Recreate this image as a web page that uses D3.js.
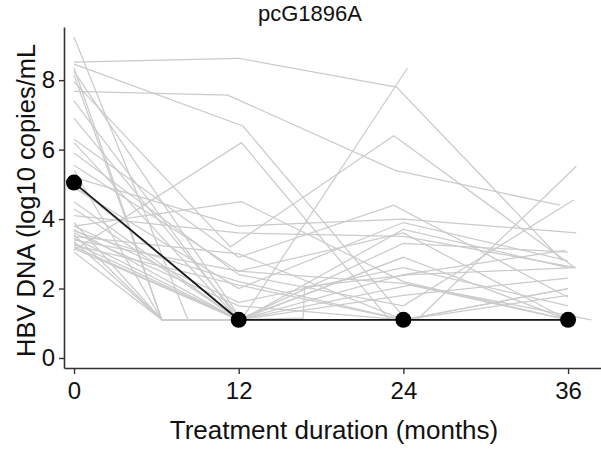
<!DOCTYPE html>
<html><head><meta charset="utf-8">
<script src="https://cdn.jsdelivr.net/npm/d3@7"></script>
<style>body{margin:0;background:#fff}svg{display:block}</style>
</head><body><svg id="c" width="601" height="450"></svg>
<script>
const chartTitle = "pcG1896A";
const xLabel = "Treatment duration (months)";
const yLabel = "HBV DNA (log10 copies/mL";
const xTicks = [0, 12, 24, 36];
const yTicks = [0, 2, 4, 6, 8];
const medianMonths = [0, 12, 24, 36];
const medianValues = [5.05, 1.1, 1.1, 1.1];

const patientMonths = [
  [0, 12, 23.5, 35.6],
  [0, 12.2, 24.3],
  [0, 12.3, 24.2, 36],
  [0, 11.2, 23.4, 35.4],
  [0, 8.3, 12, 24],
  [0, 6.4, 12, 24, 36],
  [0, 12.2, 24, 36],
  [0, 6.4, 12, 24.5, 36],
  [0, 11.4, 23.3, 36.5],
  [0, 12.2, 23, 36],
  [0, 12, 24, 36],
  [0, 12.2, 24, 36],
  [0, 12, 23.3, 36],
  [0, 12, 25, 36.6],
  [0, 12, 24, 36.4],
  [0, 12, 24, 37.7],
  [0, 6.4, 12, 24, 36],
  [0, 12, 24, 36.6],
  [0, 12, 24, 36],
  [0, 12, 24, 36],
  [0, 12, 16.7, 16.8, 24.5, 36.5],
  [0, 12, 24, 36],
  [0, 12, 24, 36.6],
  [0, 6.4, 12, 24, 36],
  [0, 12, 24, 36],
  [0, 12, 24, 36],
  [0, 12, 24, 36],
  [0, 6.4, 12, 24],
  [0, 12, 24, 36],
  [0, 12, 24, 35.8],
  [0, 12, 24, 36],
  [0, 6.4, 12, 24],
  [0, 12, 24, 36],
  [0, 12, 24, 36],
  [0, 12, 24],
  [0, 12, 24, 36],
  [0, 6.4, 12, 24, 36],
  [0, 12, 24, 36]
];
const patientValues = [
  [8.52, 8.63, 7.8, 2.8],
  [6.9, 1.1, 8.35],
  [8.46, 6.68, 1.1, 1.1],
  [7.68, 7.57, 5.4, 4.4],
  [9.24, 1.1, 1.1, 1.1],
  [8.35, 1.1, 1.1, 1.1, 1.1],
  [8.25, 1.1, 3.7, 2.6],
  [8.15, 1.1, 1.1, 2.1, 1.1],
  [7.95, 3.2, 6.4, 2.6],
  [3.1, 6.2, 1.1, 1.1],
  [7.4, 1.1, 1.1, 1.1],
  [3.8, 4.5, 2.2, 1.1],
  [6.3, 2.9, 4.4, 1.75],
  [6.2, 1.1, 1.1, 5.52],
  [5.9, 2.4, 1.5, 4.55],
  [5.55, 2.5, 2.15, 1.1],
  [5.4, 1.1, 1.1, 1.1, 1.1],
  [5.2, 3.8, 4.0, 3.6],
  [5.0, 1.1, 1.1, 1.1],
  [4.9, 2.0, 3.9, 2.8],
  [4.5, 1.1, 1.15, 2.05, 2.4, 2.6],
  [4.3, 1.1, 3.3, 3.05],
  [4.1, 3.6, 3.5, 2.6],
  [3.9, 1.1, 1.1, 1.1, 1.1],
  [3.8, 1.6, 2.6, 1.5],
  [3.7, 1.1, 2.9, 1.1],
  [3.65, 2.2, 1.1, 2.0],
  [3.55, 1.1, 1.1, 1.1],
  [3.5, 3.0, 1.1, 1.8],
  [3.45, 1.1, 2.4, 3.1],
  [3.4, 2.5, 3.6, 1.1],
  [3.35, 1.1, 1.1, 1.1],
  [3.3, 1.1, 1.8, 2.3],
  [3.25, 2.1, 1.1, 1.1],
  [3.2, 1.1, 2.9],
  [3.15, 1.1, 1.1, 2.0],
  [3.05, 1.1, 1.1, 1.1, 1.1],
  [3.6, 1.5, 1.1, 1.1]
];

const svg = d3.select("#c");
const font = "'Liberation Sans', Arial, Helvetica, sans-serif";
const x = d3.scaleLinear().domain([-0.729, 38.4]).range([64, 601]);
const y = d3.scaleLinear().domain([-0.288, 9.53]).range([368, 27]);

// patient lines
const line = d3.line().x(d => x(d[0])).y(d => y(d[1]));
svg.append("g").selectAll("path")
  .data(patientMonths.map((ms, i) => ms.map((m, j) => [m, patientValues[i][j]])))
  .join("path")
  .attr("d", line)
  .attr("fill", "none")
  .attr("stroke", "#cbcbcb")
  .attr("stroke-width", 1.25);

// median
const med = medianMonths.map((m, i) => [m, medianValues[i]]);
svg.append("path").attr("d", line(med)).attr("fill", "none")
  .attr("stroke", "#1a1a1a").attr("stroke-width", 1.8);
svg.append("g").selectAll("circle").data(med).join("circle")
  .attr("cx", d => x(d[0])).attr("cy", d => y(d[1])).attr("r", 8)
  .attr("fill", "#000");

// axes
const yAxis = d3.axisLeft(y).tickValues(yTicks).tickSize(5).tickSizeOuter(0).tickPadding(4);
const gy = svg.append("g").attr("transform", "translate(64,0)").call(yAxis);
const xAxis = d3.axisBottom(x).tickValues(xTicks).tickSize(6).tickSizeOuter(0).tickPadding(8);
const gx = svg.append("g").attr("transform", "translate(0,368)").call(xAxis);
[gx, gy].forEach(g => {
  g.select(".domain").attr("stroke", "#333").attr("stroke-width", 1.6);
  g.selectAll(".tick line").attr("stroke", "#333").attr("stroke-width", 1.4);
  g.selectAll(".tick text").attr("fill", "#111").style("font-family", font).style("font-size", "24px");
});

// labels
svg.append("text").attr("x", 310).attr("y", 21).attr("text-anchor", "middle")
  .style("font-family", font).style("font-size", "22px").attr("fill", "#111").text(chartTitle);
svg.append("text").attr("x", 334).attr("y", 439).attr("text-anchor", "middle")
  .style("font-family", font).style("font-size", "26px").attr("fill", "#111").text(xLabel);
svg.append("text").attr("transform", "translate(35,357) rotate(-90)").attr("text-anchor", "start")
  .style("font-family", font).style("font-size", "25.5px").attr("fill", "#111").text(yLabel);
</script>
</body></html>
